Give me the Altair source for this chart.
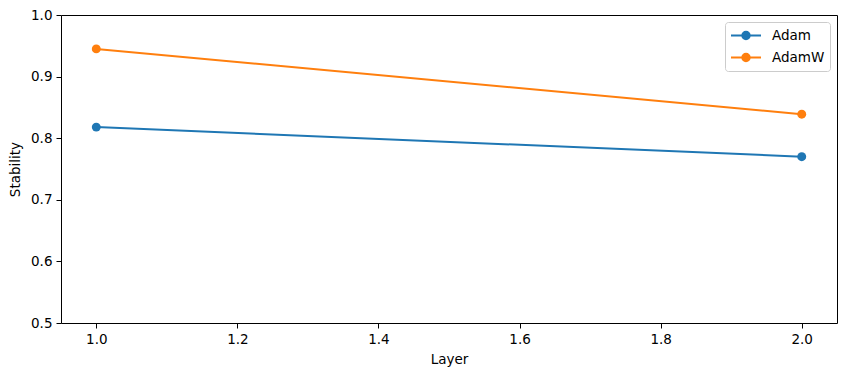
import altair as alt
import pandas as pd

layers = [1.0, 2.0]
adam = [0.818, 0.770]
adamw = [0.945, 0.839]
series = ["Adam", "AdamW"]
colors = ["#1f77b4", "#ff7f0e"]
y_ticks = [0.5, 0.6, 0.7, 0.8, 0.9, 1.0]
x_ticks = [1.0, 1.2, 1.4, 1.6, 1.8, 2.0]

rows = []
for name, vals in zip(series, [adam, adamw]):
    for l, v in zip(layers, vals):
        rows.append({"Layer": l, "Stability": v, "Optimizer": name})
df = pd.DataFrame(rows)

FONT = "DejaVu Sans"
sym = "M-1,0L3,0M0.5,0A0.5,0.5,0,1,0,1.5,0A0.5,0.5,0,1,0,0.5,0Z"

x = alt.X("Layer:Q", scale=alt.Scale(domain=[0.95, 2.05], nice=False, zero=False),
          axis=alt.Axis(values=x_ticks, format=".1f", title="Layer"))
y = alt.Y("Stability:Q", scale=alt.Scale(domain=[0.5, 1.0], nice=False, zero=False),
          axis=alt.Axis(values=y_ticks, format=".1f", title="Stability"))
color = alt.Color("Optimizer:N", scale=alt.Scale(domain=series, range=colors),
                  legend=alt.Legend(title=None, orient="none", legendX=664, legendY=7,
                                    symbolType=sym, symbolSize=225, symbolStrokeWidth=2,
                                    labelFont=FONT, labelFontSize=13.5, labelColor="black",
                                    labelOffset=25, rowPadding=5, padding=5,
                                    strokeColor="#cccccc", fillColor="white",
                                    cornerRadius=3))

base = alt.Chart(df)
line = base.mark_line(strokeWidth=2).encode(x=x, y=y, color=color)
pts = base.mark_point(filled=True, size=80, opacity=1).encode(x=x, y=y, color=color)

chart = alt.layer(line, pts).properties(
    width=776, height=308,
    autosize=alt.AutoSizeParams(type="none"),
    padding={"left": 61, "top": 15, "right": 9, "bottom": 53},
).configure_view(stroke="black", strokeWidth=1).configure_axis(
    grid=False, domain=False, tickColor="black", tickSize=5, tickWidth=1,
    labelFont=FONT, labelFontSize=13.5, labelColor="black", labelPadding=4,
    titleFont=FONT, titleFontSize=13.5, titleFontWeight="normal", titleColor="black",
).configure_axisX(titlePadding=7).configure_axisY(titlePadding=8)

chart.save("out.html", embed_options={"renderer": "svg", "actions": False})
